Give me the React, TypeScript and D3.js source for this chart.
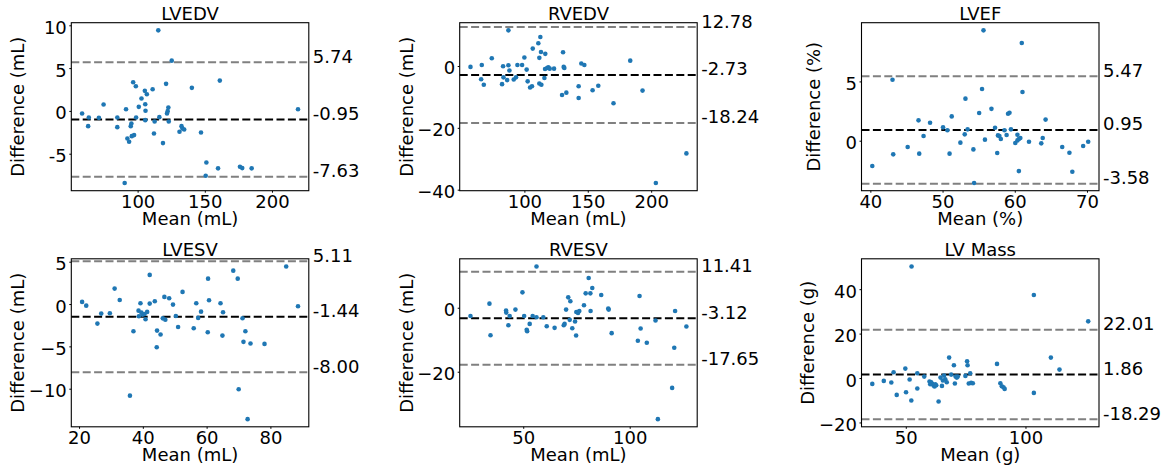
import React, { useEffect, useRef } from "react";
import * as d3 from "d3";

// LVEDV
const lvedvMean = [58.3, 63.3, 62.8, 70.8, 74.3, 84.5, 84.5, 91, 90, 92, 93.3, 94.5, 95, 95.3, 97, 96.3, 98.3, 98.5, 100.5, 102.5, 105, 106.5, 105.3, 105.5, 105.3, 110.8, 111.8, 112.3, 115, 115.8, 118.5, 120.8, 121.5, 122.5, 122, 122.8, 125, 130.8, 132.3, 133, 134.3, 140, 146.8, 150.8, 150.3, 159.5, 160.8, 175.8, 177.5, 184.5, 219];
const lvedvDiff = [-0.24, -0.71, -1.72, -0.75, 0.8, -0.71, -1.84, 0.26, -8.37, -3.16, -3.55, -1.72, -1.41, -2.89, -2.77, 3.41, 2.94, -0.71, 0.53, 1.5, 2.4, 2.01, 0.84, 0.07, -1.02, 2.59, -2.58, -1.18, 9.47, -0.67, -3.7, 3.22, -0.24, 0.46, 0.03, -1.18, 5.93, -2.38, -1.72, -1.99, -2.11, 2.75, -2.46, -5.96, -7.51, -6.65, 3.6, -6.46, -6.62, -6.65, 0.26];
const lvedvLines = [5.74, -0.95, -7.63];

// RVEDV
const rvedvMean = [57.1, 65.5, 66.0, 67.6, 73.9, 82.8, 83.1, 82.0, 86.0, 87.0, 87.0, 87.8, 91.2, 93.0, 94.1, 97.8, 99.6, 101.4, 102.2, 104.1, 105.6, 106.2, 110.6, 111.4, 111.4, 112.2, 112.7, 113.0, 115.4, 116.1, 115.9, 117.5, 118.5, 119.6, 123.0, 129.3, 130.1, 130.6, 131.1, 132.7, 142.4, 142.4, 144.5, 146.9, 153.4, 157.9, 169.9, 183.1, 192.8, 203.3, 227.4];
const rvedvDiff = [-0.13, -4.1, 0.5, -5.9, 2.66, 0.08, -3.5, -5.7, -4.4, 11.7, 0.4, -1.3, -4.2, -3.5, 0.5, 0.5, 2.9, -1.0, -4.8, -6.8, -6.4, 5.8, 7.5, 2.8, -5.5, 9.55, 4.7, -5.9, -3.7, 4.1, -0.8, -0.5, -0.25, -0.7, -0.7, -9.2, 4.6, -0.13, -0.45, -8.45, -6.4, -10.2, 0.95, 0.5, -7.7, -6.2, -11.9, 1.9, -7.8, -37.7, -28.1];
const rvedvLines = [12.78, -2.73, -18.24];

// LVEF
const lvefMean = [40.2, 43.0, 43.1, 45.1, 46.6, 46.7, 47.3, 48.2, 50.0, 50.6, 50.9, 51.2, 52.4, 53.1, 53.0, 53.4, 54.2, 54.3, 55.0, 55.4, 55.6, 55.8, 56.7, 57.2, 57.5, 57.6, 57.8, 58.0, 58.5, 58.8, 59.0, 59.2, 59.4, 60.0, 60.3, 60.3, 60.5, 60.5, 60.7, 60.9, 61.0, 61.9, 63.6, 63.8, 64.2, 66.5, 67.5, 67.9, 69.4, 70.1];
const lvefDiff = [-2.09, 5.18, -1.11, -0.49, 1.76, -1.05, 0.44, 1.56, 1.17, 0.92, -1.05, 2.09, -0.12, 3.59, 0.58, 1.0, -0.69, -3.53, 2.38, 4.4, 9.35, 0.13, 2.73, 1.14, -1.0, 0.49, 0.44, 0.19, 0.92, 0.52, 2.31, 2.4, 1.0, -0.15, 0.55, 0.07, -2.52, 0.19, 0.27, 8.28, 4.15, -0.04, -0.18, 0.27, 1.82, -0.49, -0.97, -2.57, -0.41, -0.04];
const lvefLines = [5.47, 0.95, -3.58];

// LVESV
const lvesvMean = [20.8, 22.1, 25.6, 26.8, 29.5, 31.0, 32.6, 35.8, 36.9, 38.5, 38.6, 39.1, 39.4, 39.8, 40.4, 40.7, 41.2, 42.0, 42.0, 43.6, 44.3, 44.2, 45.4, 46.1, 46.6, 46.9, 48.1, 49.3, 50.2, 50.9, 52.3, 55.8, 56.6, 57.2, 58.1, 60.2, 60.3, 60.6, 64.2, 64.8, 65.0, 68.2, 69.6, 69.9, 71.1, 71.4, 72.0, 72.7, 73.6, 78.0, 84.8, 88.5];
const lvesvDiff = [0.31, -0.13, -2.25, -1.07, -1.03, 1.88, 0.54, -10.76, -3.16, -0.72, -1.39, 0.15, -0.96, -1.19, -1.11, -1.74, -0.87, 3.5, 0.11, 0.39, -3.08, -5.04, -3.54, -1.63, 0.9, -1.79, 0.74, -0.01, -1.35, -2.65, 1.49, -2.81, 0.15, -1.58, -0.84, -3.27, 3.06, 0.5, 0.15, -3.67, -0.91, 4.0, 3.06, -10.0, -1.62, -4.41, -3.16, -13.54, -4.61, -4.65, 4.5, -0.2];
const lvesvLines = [5.11, -1.44, -8.0];

// RVESV
const rvesvMean = [25.0, 33.9, 34.4, 41.7, 41.8, 42.8, 43.4, 46.1, 49.4, 50.2, 51.4, 51.6, 52.8, 54.2, 56.0, 56.0, 59.2, 60.8, 64.5, 68.8, 69.2, 69.9, 70.9, 71.9, 71.6, 72.8, 74.1, 74.6, 74.7, 75.5, 76.1, 78.3, 79.1, 80.5, 81.3, 81.4, 82.2, 86.4, 89.7, 89.9, 91.3, 103.6, 104.4, 104.9, 107.8, 111.9, 113.0, 119.7, 120.7, 121.1, 126.4];
const rvesvDiff = [-2.4, 1.44, -8.42, -0.74, -1.36, -5.3, -2.4, -0.43, 4.97, -2.4, -6.74, -7.16, -4.89, -2.4, 13.07, -2.81, -2.81, -5.62, -6.13, -5.3, -4.89, -0.43, 3.41, 2.17, -3.62, -6.24, -4.14, -8.53, -1.15, -1.46, -0.84, 0.92, 4.66, 9.44, 4.66, -0.84, 6.32, 4.14, -0.11, -0.43, -7.78, -10.17, 3.83, -6.33, -10.8, -3.85, -34.67, -24.9, -12.36, -0.84, -5.7];
const rvesvLines = [11.41, -3.12, -17.65];

// LV Mass
const lvMassMean = [35.8, 40.6, 43.75, 44.7, 46.0, 49.6, 49.9, 51.4, 52.1, 52.2, 54.6, 54.6, 57.5, 59.7, 60.0, 60.4, 60.8, 61.4, 61.8, 62.1, 62.5, 63.5, 64.3, 64.9, 65.3, 65.8, 66.3, 66.9, 67.9, 68.75, 69.9, 70.3, 70.6, 71.1, 71.5, 74.7, 75.4, 75.6, 76.1, 76.7, 77.1, 77.8, 87.9, 89.3, 89.9, 90.6, 91.1, 103.3, 103.3, 110.4, 114.0, 126.0];
const lvMassDiff = [-2.41, -1.06, -1.81, 2.83, -7.36, 4.48, -6.16, -0.46, -9.9, 50.46, 2.38, -4.51, 0.88, -1.36, -2.56, -1.66, -2.41, -3.16, -3.61, -2.56, -3.01, -10.35, 0.43, -3.31, -0.91, 1.33, -0.31, -1.66, 9.42, 1.78, 5.98, -2.26, 0.88, 0.43, 0.88, 1.18, 7.78, 5.98, -2.26, 2.38, -1.96, -2.11, 6.58, -2.11, -3.46, -3.91, -4.66, 37.59, -6.46, 9.42, 4.03, 25.75];
const lvMassLines = [22.01, 1.86, -18.29];

const panels = [
  { title: "LVEDV", xLabel: "Mean (mL)", yLabel: "Difference (mL)", mean: lvedvMean, diff: lvedvDiff, lines: lvedvLines, xTicks: [100, 150, 200], yTicks: [-5, 0, 5, 10], hyphen: true },
  { title: "RVEDV", xLabel: "Mean (mL)", yLabel: "Difference (mL)", mean: rvedvMean, diff: rvedvDiff, lines: rvedvLines, xTicks: [100, 150, 200], yTicks: [-40, -20, 0], hyphen: false },
  { title: "LVEF", xLabel: "Mean (%)", yLabel: "Difference (%)", mean: lvefMean, diff: lvefDiff, lines: lvefLines, xTicks: [40, 50, 60, 70], yTicks: [0, 5], hyphen: false },
  { title: "LVESV", xLabel: "Mean (mL)", yLabel: "Difference (mL)", mean: lvesvMean, diff: lvesvDiff, lines: lvesvLines, xTicks: [20, 40, 60, 80], yTicks: [-10, -5, 0, 5], hyphen: false },
  { title: "RVESV", xLabel: "Mean (mL)", yLabel: "Difference (mL)", mean: rvesvMean, diff: rvesvDiff, lines: rvesvLines, xTicks: [50, 100], yTicks: [-20, 0], hyphen: false },
  { title: "LV Mass", xLabel: "Mean (g)", yLabel: "Difference (g)", mean: lvMassMean, diff: lvMassDiff, lines: lvMassLines, xTicks: [50, 100], yTicks: [-20, 0, 20, 40], hyphen: false },
];

const WIDTH = 1164;
const HEIGHT = 468;
const FONT = "DejaVu Sans, sans-serif";
const colLeft = [71.3, 459.7, 861.5];
const rowTop = [22.7, 258.8];
const boxW = 237.5;
const boxH = 168;
const yLabelGap = [53, 52.4, 47.2, 53, 52.4, 53.2];

// matplotlib-style autoscale: 5% margins, axhlines widen limits only when outside
function paddedExtent(vals: number[], lines: number[]) {
  let [lo, hi] = d3.extent(vals) as [number, number];
  let pad = (hi - lo) * 0.05;
  let changed = false;
  lines.forEach((l) => {
    if (l < lo - pad || l > hi + pad) {
      lo = Math.min(lo, l);
      hi = Math.max(hi, l);
      changed = true;
    }
  });
  if (changed) pad = (hi - lo) * 0.05;
  return [lo - pad, hi + pad];
}

const App = () => {
  const svgRef = useRef<SVGSVGElement>(null);

  useEffect(() => {
    if (!svgRef.current) return;
    const svg = d3.select(svgRef.current);
    svg.selectAll("*").remove();

    svg.append("rect").attr("width", WIDTH).attr("height", HEIGHT).attr("fill", "#fff");

    panels.forEach((p, i) => {
      const left = colLeft[i % 3];
      const top = rowTop[Math.floor(i / 3)];
      const g = svg.append("g").attr("transform", `translate(${left},${top})`);

      const x = d3.scaleLinear().domain(paddedExtent(p.mean, [])).range([0, boxW]);
      const y = d3.scaleLinear().domain(paddedExtent(p.diff, p.lines)).range([boxH, 0]);

      // reference lines: upper limit, mean bias, lower limit
      p.lines.forEach((v, j) => {
        g.append("line")
          .attr("x1", 0)
          .attr("x2", boxW)
          .attr("y1", y(v))
          .attr("y2", y(v))
          .attr("stroke", j === 1 ? "#000" : "#808080")
          .attr("stroke-width", 2)
          .attr("stroke-dasharray", "8,3.4");
        g.append("text")
          .attr("x", boxW + 4)
          .attr("y", y(v) + 0.5)
          .attr("font-family", FONT)
          .attr("font-size", 18)
          .attr("fill", "#000")
          .text(v.toFixed(2));
      });

      // points
      g.selectAll("circle.pt")
        .data(p.mean.map((m, k) => [m, p.diff[k]]))
        .join("circle")
        .attr("class", "pt")
        .attr("cx", (d) => x(d[0]))
        .attr("cy", (d) => y(d[1]))
        .attr("r", 2.3)
        .attr("fill", "#1f77b4");

      // frame
      g.append("rect")
        .attr("width", boxW)
        .attr("height", boxH)
        .attr("fill", "none")
        .attr("stroke", "#000")
        .attr("stroke-width", 1.1);

      // x ticks
      p.xTicks.forEach((t) => {
        g.append("line")
          .attr("x1", x(t))
          .attr("x2", x(t))
          .attr("y1", boxH)
          .attr("y2", boxH + 2)
          .attr("stroke", "#000");
        g.append("text")
          .attr("x", x(t))
          .attr("y", boxH + 17)
          .attr("text-anchor", "middle")
          .attr("font-family", FONT)
          .attr("font-size", 18)
          .text(t);
      });

      // y ticks
      p.yTicks.forEach((t) => {
        const label = t < 0 ? (p.hyphen ? "-" : "\u2212") + Math.abs(t) : String(t);
        g.append("line")
          .attr("x1", -2)
          .attr("x2", 0)
          .attr("y1", y(t))
          .attr("y2", y(t))
          .attr("stroke", "#000");
        g.append("text")
          .attr("x", -4.5)
          .attr("y", y(t) + 1.5)
          .attr("text-anchor", "end")
          .attr("dominant-baseline", "central")
          .attr("font-family", FONT)
          .attr("font-size", 18)
          .text(label);
      });

      // title
      g.append("text")
        .attr("x", boxW / 2)
        .attr("y", -2.5)
        .attr("text-anchor", "middle")
        .attr("font-family", FONT)
        .attr("font-size", 18)
        .text(p.title);

      // axis labels
      g.append("text")
        .attr("x", boxW / 2)
        .attr("y", boxH + 34)
        .attr("text-anchor", "middle")
        .attr("font-family", FONT)
        .attr("font-size", 18)
        .text(p.xLabel);

      g.append("text")
        .attr("transform", `translate(${-yLabelGap[i] + 5.7},${boxH / 2}) rotate(-90)`)
        .attr("text-anchor", "middle")
        .attr("font-family", FONT)
        .attr("font-size", 18)
        .text(p.yLabel);
    });
  }, []);

  return (
    <svg
      ref={svgRef}
      width={WIDTH}
      height={HEIGHT}
      style={{ position: "absolute", left: 0, top: 0 }}
    />
  );
};

export default App;
